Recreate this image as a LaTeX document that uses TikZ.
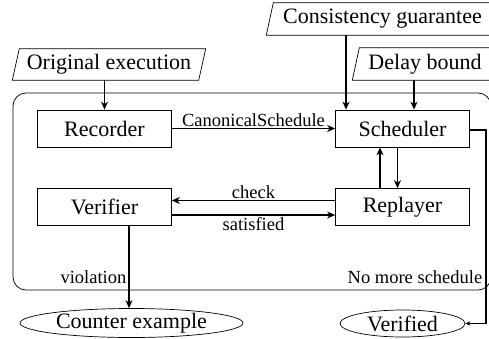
\documentclass[tikz,border=0pt]{standalone}
\usepackage{fontspec}
\setmainfont{Liberation Serif}
\usetikzlibrary{arrows.meta,shapes.geometric,calc}
\begin{document}
\begin{tikzpicture}[x=1pt,y=-1pt,
  box/.style={draw,line width=0.7pt,minimum width=134pt,minimum height=37pt,inner sep=0pt,font=\fontsize{22}{26}\selectfont},
  para/.style={inner sep=0pt,font=\fontsize{22}{26}\selectfont},
  term/.style={draw,ellipse,line width=0.7pt,inner sep=0pt,font=\fontsize{22}{26}\selectfont},
  lab/.style={inner sep=1.5pt,font=\fontsize{18.5}{22}\selectfont},
  arr/.style={line width=1.4pt,-{Stealth[length=8pt,width=7pt,inset=2.5pt]}},
  pline/.style={line width=0.7pt}]
\useasboundingbox (0,0) rectangle (489,339);
% container
\draw[pline,rounded corners=13pt] (13,93) rectangle (491,290);
% inputs
\node[para,minimum width=186pt,minimum height=31pt] (orig) at (109,64.5) {Original execution};
\node[para,minimum width=225pt,minimum height=32pt] (cons) at (382.5,19) {Consistency guarantee};
\node[para,minimum width=138pt,minimum height=32pt] (delay) at (425,64) {Delay bound};
\foreach \n in {orig,cons,delay}{
  \draw[pline] ([xshift=-3.5pt]\n.south west) -- ([xshift=3.5pt]\n.north west)
     -- ([xshift=3.5pt]\n.north east) -- ([xshift=-3.5pt]\n.south east) -- cycle;
}
% boxes
\node[box] (rec) at (104.5,128.5) {Recorder};
\node[box] (sched) at (402.5,128.5) {Scheduler};
\node[box] (ver) at (104.5,207) {Verifier};
\node[box] (rep) at (402.5,207) {Replayer};
% outputs
\node[term,minimum width=223pt,minimum height=29pt] (cex) at (131.5,323) {Counter example};
\node[term,minimum width=125pt,minimum height=27pt] (vfd) at (402.5,323.5) {Verified};
% connectors
\draw[arr] (rec.north |- orig.south) -- (rec.north);
\coordinate (c1) at ([xshift=-56.5pt]sched.north);
\draw[arr] (cons.south -| c1) -- (c1);
\coordinate (c2) at ([xshift=11.5pt]sched.north);
\draw[arr] (delay.south -| c2) -- (c2);
\draw[arr] (rec.east) -- (sched.west) node[lab,midway,above] {CanonicalSchedule};
\coordinate (u1) at ([xshift=-22.5pt]rep.north);
\draw[arr] (u1) -- (u1 |- sched.south);
\coordinate (d1) at ([xshift=-5pt]sched.south);
\draw[arr] (d1) -- (d1 |- rep.north);
\coordinate (k1) at ([yshift=6.5pt]rep.west);
\draw[arr] (k1) -- (k1 -| ver.east) node[lab,midway,above] {check};
\coordinate (s1) at ([yshift=-8pt]ver.east);
\draw[arr] (s1) -- (s1 -| rep.west) node[lab,midway,below] {satisfied};
\coordinate (v1) at ([xshift=24.5pt]ver.south);
\draw[arr] (v1) -- (v1 |- cex.north);
\node[lab,anchor=east] (viol) at (128,277) {violation};
\coordinate (r1) at (486,130);
\draw[line width=1.4pt,-{Stealth[length=5pt,width=4.5pt]}] (sched.east |- r1) -- (r1) |- (vfd.east);
\node[lab,anchor=east] (nomore) at (484,277) {No more schedule};
\end{tikzpicture}
\end{document}
